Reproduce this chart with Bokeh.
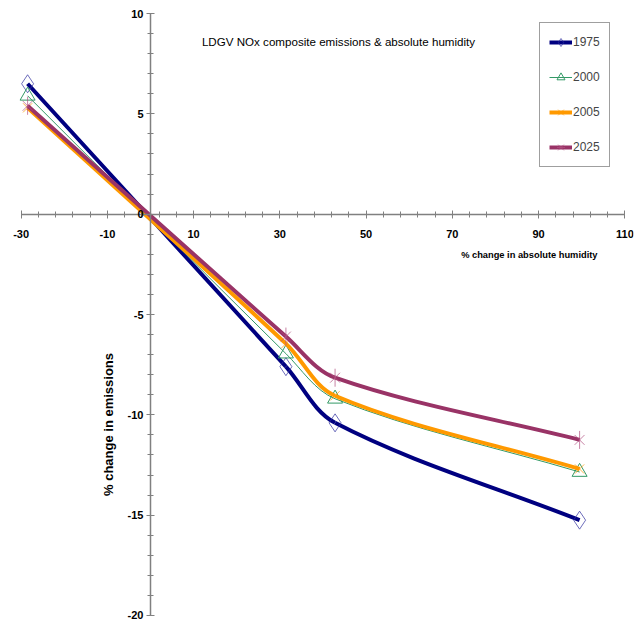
import math
import numpy as np
from bokeh.plotting import figure
from bokeh.models import (Range1d, LinearAxis, FixedTicker, Label, Legend, ColumnDataSource)
from bokeh.embed import file_html
from bokeh.resources import INLINE

# ---- data ----
humidity = [-28.5, 31.4, 42.8, 99.5]
series_names = ["1975", "2000", "2005", "2025"]
y1975 = [6.5, -7.6, -10.4, -15.25]
y2000 = [5.9, -6.95, -9.2, -12.85]
y2005 = [5.3, -6.45, -9.05, -12.7]
y2025 = [5.4, -6.1, -8.15, -11.25]
x_ticks = [-30, -10, 10, 30, 50, 70, 90, 110]
x_minor = list(range(-30, 111, 4))
y_ticks = [-20, -15, -10, -5, 0, 5, 10]
y_minor = list(range(-20, 11, 1))

FONT = "Liberation Sans"
X_RANGE = (-32, 112)
Y_RANGE = (-20.35, 10.35)
FRAME_W, FRAME_H = 621, 616

p = figure(width=634, height=622, x_range=Range1d(*X_RANGE), y_range=Range1d(*Y_RANGE),
           output_backend="svg", toolbar_location=None,
           x_axis_type=None, y_axis_type=None,
           min_border_left=12, min_border_right=1, min_border_top=6, min_border_bottom=0)
p.grid.visible = False
p.outline_line_color = None

def style_axis(ax, ticks):
    ax.axis_line_color = "#808080"
    ax.axis_line_width = 1.5
    ax.major_tick_line_color = "#808080"
    ax.minor_tick_line_color = "#808080"
    ax.major_tick_in = 4
    ax.major_tick_out = 4
    ax.minor_tick_in = 3
    ax.minor_tick_out = 3
    ax.major_label_text_font = FONT
    ax.major_label_text_font_style = "bold"
    ax.major_label_text_font_size = "11px"
    ax.major_label_text_color = "black"
    ax.major_label_overrides = {t: str(t) for t in ticks}

xaxis = LinearAxis(fixed_location=0, bounds=(x_ticks[0], x_ticks[-1]),
                   ticker=FixedTicker(ticks=x_ticks, minor_ticks=x_minor))
style_axis(xaxis, x_ticks)
xaxis.major_label_standoff = 12
p.add_layout(xaxis, "below")

yaxis = LinearAxis(fixed_location=0, bounds=(y_ticks[0], y_ticks[-1]),
                   ticker=FixedTicker(ticks=y_ticks, minor_ticks=y_minor))
style_axis(yaxis, y_ticks)
yaxis.major_label_standoff = 3
p.add_layout(yaxis, "left")

# pixel scale, used only to weight the smoothing tangents
SX = FRAME_W / (X_RANGE[1] - X_RANGE[0])
SY = FRAME_H / (Y_RANGE[1] - Y_RANGE[0])


def smooth_source(xs, ys, t=1.0 / 3.0):
    """Bezier segments passing through the data points (smoothed line)."""
    x = np.asarray(xs, float)
    y = np.asarray(ys, float)
    n = len(x)
    xp = np.concatenate([[x[0]], x, [x[-1]]])
    yp = np.concatenate([[y[0]], y, [y[-1]]])
    out_c, in_c = [], []
    for i in range(n):
        j = i + 1
        lp = math.hypot((xp[j] - xp[j - 1]) * SX, (yp[j] - yp[j - 1]) * SY)
        ln = math.hypot((xp[j + 1] - xp[j]) * SX, (yp[j + 1] - yp[j]) * SY)
        dx, dy = xp[j + 1] - xp[j - 1], yp[j + 1] - yp[j - 1]
        tot = lp + ln
        out_c.append((x[i] + dx * ln / tot * t, y[i] + dy * ln / tot * t))
        in_c.append((x[i] - dx * lp / tot * t, y[i] - dy * lp / tot * t))
    d = dict(x0=x[:-1], y0=y[:-1], x1=x[1:], y1=y[1:],
             cx0=[c[0] for c in out_c[:-1]], cy0=[c[1] for c in out_c[:-1]],
             cx1=[c[0] for c in in_c[1:]], cy1=[c[1] for c in in_c[1:]])
    return ColumnDataSource(d)


def add_series(ys, color, width, markers):
    p.bezier(x0="x0", y0="y0", x1="x1", y1="y1", cx0="cx0", cy0="cy0",
             cx1="cx1", cy1="cy1", source=smooth_source(humidity, ys),
             line_color=color, line_width=width)
    # legend sample line: a single point, so nothing is drawn in the plot
    leg_line = p.line(x=humidity[:1], y=ys[:1], line_color=color, line_width=width)
    rs = [leg_line]
    for mk in markers:
        rs.append(p.scatter(humidity, ys, fill_color=None, **mk))
    return rs

rs1975 = add_series(y1975, "#000080", 4,
                    [dict(marker="diamond", size=18, line_color="#3030a0", line_alpha=0.7, line_width=1)])
rs2000 = add_series(y2000, "#339966", 1,
                    [dict(marker="triangle", size=15, line_color="#339966", line_width=1)])
rs2005 = add_series(y2005, "#FF9900", 4,
                    [dict(marker="x", size=13, line_color="#FF9900", line_alpha=0.7, line_width=1)])
rs2025 = add_series(y2025, "#993366", 4,
                    [dict(marker="x", size=14, line_color="#b05080", line_alpha=0.7, line_width=1),
                     dict(marker="dash", size=18, angle=math.pi / 2, line_color="#b05080",
                          line_alpha=0.7, line_width=1)])

legend = Legend(items=[
    (series_names[0], rs1975),
    (series_names[1], rs2000),
    (series_names[2], rs2005),
    (series_names[3], rs2025),
], location=(527, 455))
legend.label_text_font = FONT
legend.label_text_font_size = "12px"
legend.glyph_width = 23
legend.glyph_height = 20
legend.label_height = 20
legend.spacing = 15
legend.padding = 9
legend.label_standoff = 1
legend.border_line_color = "#404040"
legend.border_line_width = 1
legend.background_fill_color = "white"
legend.background_fill_alpha = 1
legend.margin = 0
p.add_layout(legend, "center")

p.add_layout(Label(x=326, y=581, x_units="screen", y_units="screen",
                   text="LDGV NOx composite emissions & absolute humidity",
                   text_font=FONT, text_font_size="11.6px", text_align="center",
                   text_baseline="middle", text_color="black"))
p.add_layout(Label(x=585, y=368, x_units="screen", y_units="screen",
                   text="% change in absolute humidity",
                   text_font=FONT, text_font_style="bold", text_font_size="9.3px",
                   text_align="right", text_baseline="middle", text_color="black"))
p.add_layout(Label(x=96, y=198, x_units="screen", y_units="screen",
                   text="% change in emissions", angle=math.pi / 2,
                   text_font=FONT, text_font_style="bold", text_font_size="13px",
                   text_align="center", text_baseline="middle", text_color="black"))

open("out.html", "w").write(file_html(p, INLINE))
